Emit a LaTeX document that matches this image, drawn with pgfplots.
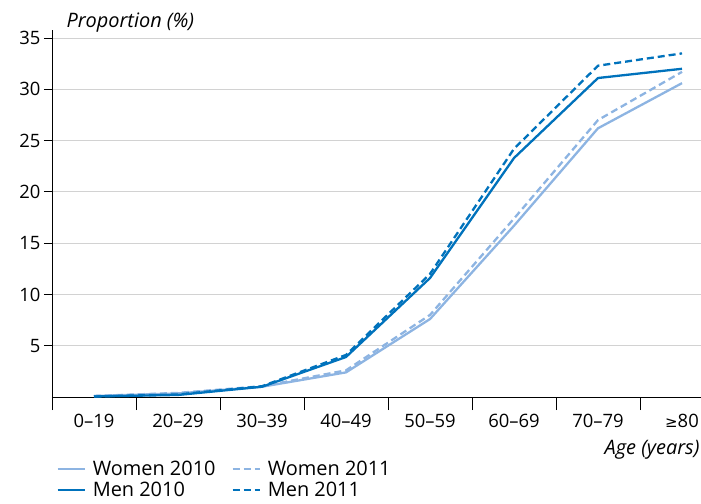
\documentclass[border=0pt]{standalone}
\usepackage{pgfplots}
\pgfplotsset{compat=1.18}
\usepackage{fontspec}
\setmainfont{Open Sans}
\newfontfamily\symfont{DejaVu Sans}
\definecolor{dblue}{RGB}{0,114,188}
\definecolor{lblue}{RGB}{141,180,226}
\definecolor{gridgray}{RGB}{210,210,210}
\begin{document}
\begin{tikzpicture}
\useasboundingbox (-52bp,-107bp) rectangle (649bp,397bp);
\begin{axis}[
  at={(0,0)}, anchor=south west,
  scale only axis, width=649bp, height=367.2bp,
  xmin=-0.5, xmax=7.226, ymin=0, ymax=35.8,
  axis x line=bottom, axis y line=left,
  axis line style={-, line width=0.8bp, black},
  xtick={0,...,7},
  xticklabels={0--19,20--29,30--39,40--49,50--59,60--69,70--79,{\symfont\fontsize{15}{18}\selectfont ≥}80},
  minor xtick={-0.5,0.5,...,6.5},
  major x tick style={draw=none},
  minor x tick style={black, line width=0.8bp},
  minor tick length=13bp,
  ytick={5,10,...,35},
  major tick length=8bp,
  y tick style={black, line width=0.8bp},
  tick align=outside,
  ymajorgrids, grid style={gridgray, line width=1bp},
  tick label style={font=\fontsize{18.5}{20}\selectfont},
  /pgf/number format/assume math mode=true,
  xticklabel style={yshift=-6bp},
  legend style={at={(0.002,-0.163)}, anchor=north west, draw=none, fill=none,
    legend columns=2, font=\fontsize{20}{22}\selectfont,
    cells={anchor=west},
    /tikz/every odd column/.append style={column sep=5bp},
    /tikz/every even column/.append style={column sep=14bp},
    row sep=1bp},
  legend image code/.code={\draw[#1] (0bp,0bp) -- (27bp,0bp);},
  line join=round,
]
\addplot[lblue, line width=2.3bp] coordinates {(0,0.1) (1,0.35) (2,1.0) (3,2.4) (4,7.6) (5,16.7) (6,26.2) (7,30.6)};
\addlegendentry{Women 2010}
\addplot[lblue, line width=2.3bp, dash pattern=on 7bp off 4bp] coordinates {(0,0.1) (1,0.4) (2,1.05) (3,2.6) (4,8.0) (5,17.4) (6,27.0) (7,31.7)};
\addlegendentry{Women 2011}
\addplot[dblue, line width=2.3bp] coordinates {(0,0.05) (1,0.2) (2,1.0) (3,3.9) (4,11.6) (5,23.3) (6,31.1) (7,32.0)};
\addlegendentry{Men 2010}
\addplot[dblue, line width=2.3bp, dash pattern=on 7bp off 4bp] coordinates {(0,0.05) (1,0.25) (2,1.05) (3,4.1) (4,12.0) (5,24.2) (6,32.3) (7,33.5)};
\addlegendentry{Men 2011}
\end{axis}
\node[anchor=west, font=\itshape\fontsize{20}{22}\selectfont] at (11bp,374bp) {Proportion (\%)};
\node[anchor=east, font=\itshape\fontsize{20}{22}\selectfont] at (651bp,-53bp) {Age (years)};
\end{tikzpicture}
\end{document}
